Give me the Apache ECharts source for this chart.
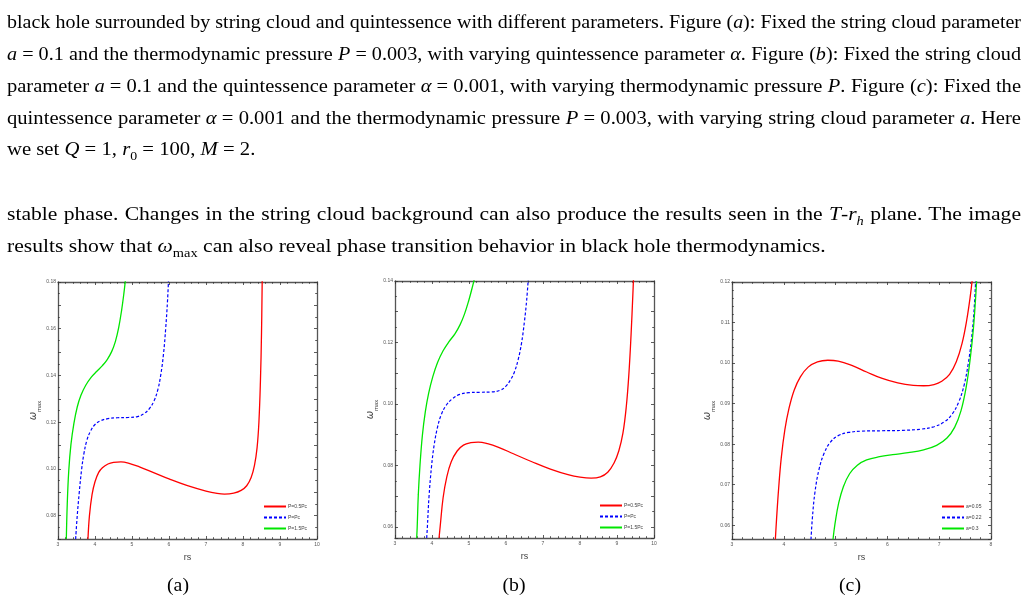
<!DOCTYPE html>
<html><head><meta charset="utf-8">
<script src="https://cdn.jsdelivr.net/npm/echarts@6/dist/echarts.min.js"></script>
<style>
html,body{margin:0;padding:0;background:#fff;}
#wrap{position:relative;width:1028px;height:603px;overflow:hidden;background:#fff;}
#chart{position:absolute;left:0;top:0;width:1028px;height:603px;}
.ln{position:absolute;left:7px;width:881px;font-family:"Liberation Serif","DejaVu Serif",serif;font-size:18px;line-height:20px;color:#000;transform:scaleX(1.15);transform-origin:0 0;}
.j{text-align:justify;text-align-last:justify;}
.m{display:inline-block;white-space:nowrap;}
.cap{position:absolute;width:60px;text-align:center;font-family:"Liberation Serif",serif;font-size:18px;line-height:20px;transform:scaleX(1.1);}
sub{font-size:12px;line-height:0;}
</style></head>
<body><div id="wrap">
<div id="chart"></div>
<div class="ln j" style="top:12px">black hole surrounded by string cloud and quintessence with different parameters. Figure (<i>a</i>): Fixed the string cloud parameter</div>
<div class="ln j" style="top:44px"><span class="m"><i>a</i> = 0.1</span> and the thermodynamic pressure <span class="m"><i>P</i> = 0.003,</span> with varying quintessence parameter <i>α</i>. Figure (<i>b</i>): Fixed the string cloud</div>
<div class="ln j" style="top:76px">parameter <span class="m"><i>a</i> = 0.1</span> and the quintessence parameter <span class="m"><i>α</i> = 0.001,</span> with varying thermodynamic pressure <i>P</i>. Figure (<i>c</i>): Fixed the</div>
<div class="ln j" style="top:108px">quintessence parameter <span class="m"><i>α</i> = 0.001</span> and the thermodynamic pressure <span class="m"><i>P</i> = 0.003,</span> with varying string cloud parameter <i>a</i>. Here</div>
<div class="ln" style="top:139px">we set <span class="m"><i>Q</i> = 1, <i>r</i><sub>0</sub> = 100, <i>M</i> = 2.</span></div>
<div class="ln j" style="top:204px">stable phase. Changes in the string cloud background can also produce the results seen in the <i>T</i>-<i>r</i><sub><i>h</i></sub> plane. The image</div>
<div class="ln" style="top:236px;width:850px;transform:scaleX(1.2)">results show that <i>ω</i><sub>max</sub> can also reveal phase transition behavior in black hole thermodynamics.</div>
<div class="cap" style="left:148px;top:575px">(a)</div>
<div class="cap" style="left:484px;top:575px">(b)</div>
<div class="cap" style="left:820px;top:575px">(c)</div>
</div>
<script>
// fit justified text lines into the 1014px text column
(function () {
  const FULL = 1014, MAXS = 1.2;
  document.querySelectorAll('.ln.j').forEach(el => {
    el.style.width = 'auto';
    el.style.display = 'inline-block';
    el.style.whiteSpace = 'nowrap';
    const w = el.offsetWidth;
    const s = Math.min(MAXS, FULL / (w + 4));
    el.style.display = 'block';
    el.style.whiteSpace = 'normal';
    el.style.width = (FULL / s) + 'px';
    el.style.transform = 'scaleX(' + s + ')';
  });
})();

// ---- axis ranges ----
const A_X_RANGE = [3, 10], A_Y_RANGE = [0.07, 0.18];
const B_X_RANGE = [3, 10], B_Y_RANGE = [0.0564, 0.14];
const C_X_RANGE = [3, 8],  C_Y_RANGE = [0.0566, 0.12];
// ---- legend labels ----
const A_NAMES = ['P=0.5Pc', 'P=Pc', 'P=1.5Pc'];
const B_NAMES = ['P=0.5Pc', 'P=Pc', 'P=1.5Pc'];
const C_NAMES = ['a=0.05', 'a=0.22', 'a=0.3'];
// ---- chart (a) ----
const A_RED = [[3.81,0.07],[3.85,0.08],[3.92,0.089],[4.0,0.0945],[4.1,0.0985],[4.2,0.1005],[4.35,0.1021],[4.5,0.1028],[4.7,0.103],[4.9,0.1025],[5.2,0.1009],[5.6,0.0983],[6.0,0.0957],[6.5,0.0928],[7.0,0.0905],[7.3,0.0895],[7.5,0.0892],[7.75,0.0896],[7.95,0.0908],[8.1,0.0928],[8.22,0.0963],[8.31,0.1015],[8.38,0.109],[8.43,0.12],[8.47,0.137],[8.50,0.158],[8.52,0.182]];
const A_BLUE = [[3.477,0.07],[3.52,0.08],[3.575,0.09],[3.64,0.10],[3.70,0.1065],[3.78,0.1122],[3.88,0.1162],[4.0,0.119],[4.15,0.1206],[4.35,0.1215],[4.6,0.1219],[4.9,0.122],[5.15,0.1224],[5.32,0.1236],[5.47,0.1258],[5.6,0.1293],[5.7,0.1340],[5.78,0.1405],[5.85,0.149],[5.91,0.160],[5.96,0.172],[5.99,0.182]];
const A_GREEN = [[3.225,0.07],[3.25,0.085],[3.29,0.099],[3.35,0.1105],[3.43,0.1195],[3.52,0.1265],[3.62,0.1315],[3.75,0.1358],[3.9,0.1393],[4.05,0.1418],[4.2,0.1442],[4.33,0.1468],[4.45,0.1502],[4.55,0.1545],[4.64,0.1605],[4.72,0.168],[4.78,0.175],[4.83,0.182]];
// ---- chart (b) ----
const B_RED = [[4.19,0.0564],[4.22,0.06],[4.30,0.0695],[4.40,0.0763],[4.52,0.0812],[4.68,0.0847],[4.85,0.0866],[5.05,0.0874],[5.25,0.0876],[5.5,0.0871],[5.8,0.0859],[6.2,0.0838],[6.7,0.0812],[7.2,0.0788],[7.7,0.0769],[8.0,0.0762],[8.3,0.0759],[8.55,0.0763],[8.75,0.0778],[8.92,0.0808],[9.05,0.0848],[9.16,0.0905],[9.25,0.099],[9.32,0.1095],[9.38,0.1225],[9.43,0.136],[9.45,0.142]];
const B_BLUE = [[3.857,0.0564],[3.875,0.06],[3.92,0.07],[3.99,0.08],[4.06,0.0868],[4.15,0.0925],[4.25,0.0965],[4.38,0.0995],[4.55,0.1017],[4.75,0.1031],[5.0,0.1037],[5.3,0.1038],[5.6,0.1039],[5.85,0.1045],[6.0,0.1058],[6.12,0.1078],[6.23,0.1105],[6.33,0.1145],[6.42,0.1198],[6.50,0.127],[6.56,0.134],[6.61,0.142]];
const B_GREEN = [[3.586,0.0564],[3.60,0.06],[3.63,0.0705],[3.675,0.08],[3.74,0.0898],[3.82,0.0975],[3.91,0.1035],[4.02,0.1088],[4.15,0.1135],[4.30,0.1173],[4.46,0.1203],[4.62,0.1228],[4.76,0.1258],[4.88,0.1293],[4.99,0.1335],[5.09,0.138],[5.18,0.1425],[5.25,0.147]];
// ---- chart (c) ----
const C_RED = [[3.837,0.0565],[3.86,0.0615],[3.90,0.069],[3.95,0.0765],[4.02,0.0835],[4.10,0.0888],[4.2,0.0933],[4.32,0.0966],[4.47,0.099],[4.65,0.1003],[4.85,0.1007],[5.05,0.1005],[5.3,0.0995],[5.6,0.0978],[5.9,0.0962],[6.2,0.0951],[6.5,0.0945],[6.7,0.0944],[6.9,0.0947],[7.05,0.0955],[7.2,0.0972],[7.33,0.1003],[7.44,0.1048],[7.53,0.1105],[7.60,0.1165],[7.65,0.122]];
const C_BLUE = [[4.525,0.0565],[4.55,0.0615],[4.60,0.068],[4.68,0.0738],[4.78,0.0778],[4.90,0.0805],[5.05,0.0821],[5.25,0.0829],[5.5,0.0832],[5.9,0.0833],[6.3,0.0834],[6.65,0.0837],[6.9,0.0843],[7.1,0.0855],[7.25,0.0874],[7.38,0.0905],[7.48,0.0945],[7.56,0.0998],[7.62,0.1055],[7.67,0.1125],[7.71,0.122]];
const C_GREEN = [[4.95,0.0565],[4.99,0.0605],[5.06,0.0655],[5.15,0.0695],[5.27,0.0727],[5.42,0.0748],[5.6,0.0761],[5.85,0.0769],[6.1,0.0774],[6.4,0.0779],[6.7,0.0786],[6.95,0.0797],[7.15,0.0815],[7.3,0.0842],[7.42,0.0882],[7.52,0.094],[7.60,0.1012],[7.66,0.1085],[7.70,0.1155],[7.73,0.122]];

const FRAME = '#555';
const TICK = '#333';
const grids = [
  {left: 58, top: 282, width: 259, height: 257},
  {left: 395, top: 281, width: 259, height: 257},
  {left: 732, top: 282, width: 259, height: 257}
];
function isMult(v, step) { const r = v / step; return Math.abs(r - Math.round(r)) < 1e-6; }
function xAxes(g, range, minorSplit) {
  const base = {
    gridIndex: g, type: 'value', min: range[0], max: range[1], interval: 1,
    axisLine: {show: true, onZero: false, lineStyle: {color: FRAME, width: 1.3}},
    axisTick: {show: true, inside: true, length: 3, lineStyle: {color: TICK, width: 0.8}},
    minorTick: {show: true, splitNumber: minorSplit, length: 1.8, lineStyle: {color: TICK, width: 0.8}},
    splitLine: {show: false}, minorSplitLine: {show: false}
  };
  return [
    Object.assign({}, base, {position: 'bottom',
      axisLabel: {fontSize: 5, color: '#555', margin: 3, fontFamily: 'Liberation Sans'},
      name: 'rs', nameLocation: 'middle', nameGap: 14,
      nameTextStyle: {fontSize: 9, color: '#444', fontFamily: 'Liberation Sans'}}),
    Object.assign({}, base, {position: 'top', axisLabel: {show: false}})
  ];
}
function yAxes(g, range, step, labelStep, minorSplit) {
  const base = {
    gridIndex: g, type: 'value', min: range[0], max: range[1],
    minInterval: step, maxInterval: step, splitNumber: 8,
    axisLine: {show: true, onZero: false, lineStyle: {color: FRAME, width: 1.3}},
    axisTick: {show: true, inside: true, length: 3, lineStyle: {color: TICK, width: 0.8}},
    minorTick: {show: true, splitNumber: minorSplit, length: 1.8, lineStyle: {color: TICK, width: 0.8}},
    splitLine: {show: false}, minorSplitLine: {show: false}
  };
  return [
    Object.assign({}, base, {position: 'left',
      axisLabel: {fontSize: 5, color: '#555', margin: 2, interval: 0, fontFamily: 'Liberation Sans',
        formatter: v => isMult(v, labelStep) ? v.toFixed(2) : ''},
      name: '{w|ω}{s|max}', nameLocation: 'middle', nameGap: 12,
      nameTextStyle: {color: '#444', rich: {
        w: {fontSize: 10, fontFamily: 'DejaVu Sans', fontStyle: 'italic', color: '#444', lineHeight: 14, verticalAlign: 'top'},
        s: {fontSize: 6, fontFamily: 'Liberation Sans', color: '#444', lineHeight: 14, verticalAlign: 'bottom'}
      }}}),
    Object.assign({}, base, {position: 'right', axisLabel: {show: false}})
  ];
}
function mkSeries(g, names, data) {
  const colors = ['#ff0000', '#0000ff', '#00e600'];
  return data.map((d, i) => ({
    type: 'line', name: names[i], xAxisIndex: 2 * g, yAxisIndex: 2 * g,
    data: d, showSymbol: false, symbol: 'none', smooth: 0.4, clip: true,
    lineStyle: {color: colors[i], width: i === 1 ? 1.2 : 1.3, type: i === 1 ? [3, 2] : 'solid'},
    itemStyle: {color: colors[i]}
  }));
}
function mkLegend(names, left, top) {
  return {data: names, orient: 'vertical', left: left, top: top, itemWidth: 22, itemHeight: 6, itemGap: 6,
    padding: 0, selectedMode: false, itemStyle: {opacity: 0, borderWidth: 0},
    textStyle: {fontSize: 5, color: '#444', padding: [0, 0, 0, -3], fontFamily: 'Liberation Sans'}};
}
const chart = echarts.init(document.getElementById('chart'), null, {renderer: 'canvas'});
chart.setOption({
  animation: false,
  backgroundColor: 'transparent',
  grid: grids,
  xAxis: [].concat(xAxes(0, A_X_RANGE, 5), xAxes(1, B_X_RANGE, 5), xAxes(2, C_X_RANGE, 5)),
  yAxis: [].concat(yAxes(0, A_Y_RANGE, 0.01, 0.02, 2), yAxes(1, B_Y_RANGE, 0.01, 0.02, 2), yAxes(2, C_Y_RANGE, 0.01, 0.01, 5)),
  legend: [mkLegend(A_NAMES, 263, 504), mkLegend(B_NAMES, 599, 503), mkLegend(C_NAMES, 941, 504)],
  series: [].concat(
    mkSeries(0, A_NAMES, [A_RED, A_BLUE, A_GREEN]),
    mkSeries(1, B_NAMES, [B_RED, B_BLUE, B_GREEN]),
    mkSeries(2, C_NAMES, [C_RED, C_BLUE, C_GREEN]))
});
</script>
</body></html>
